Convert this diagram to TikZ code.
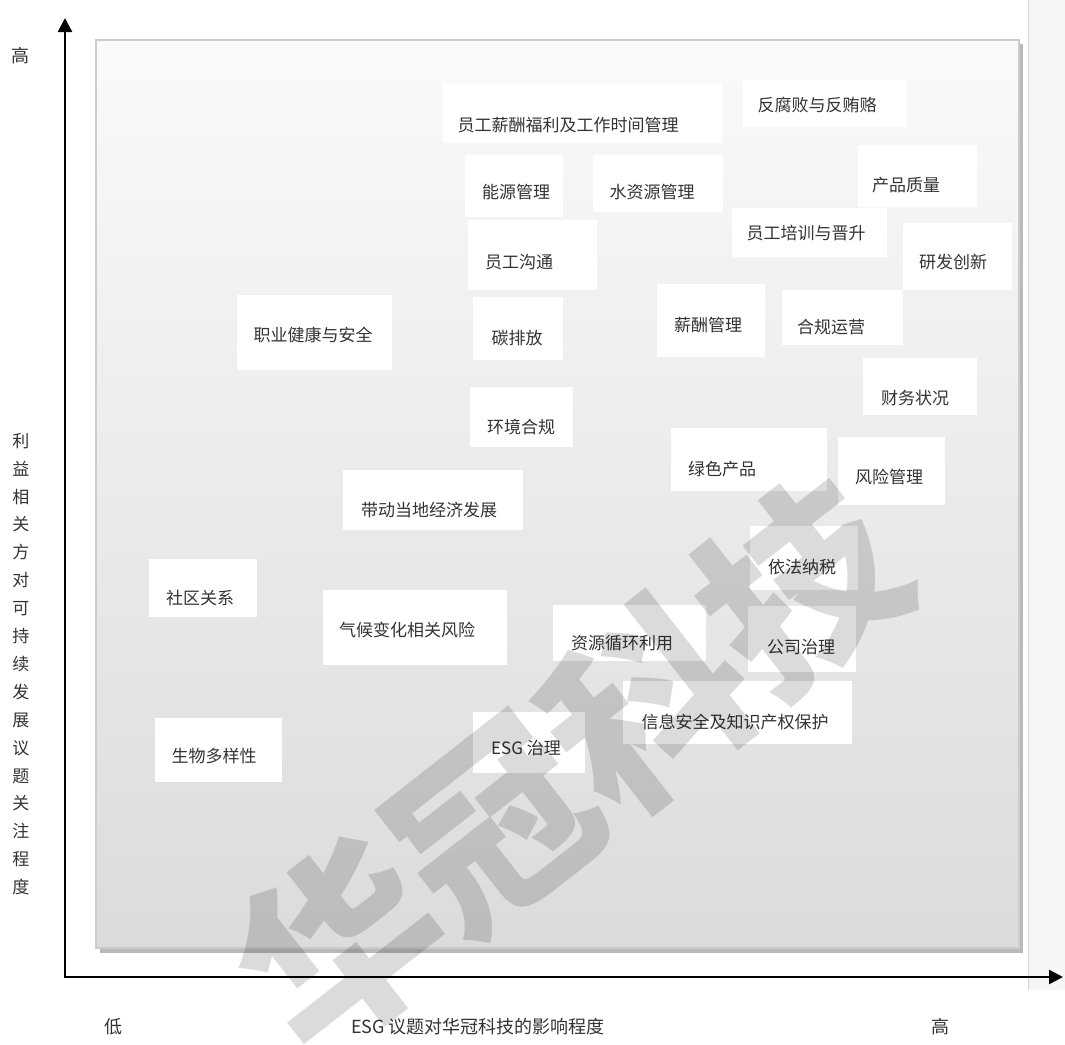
\documentclass[tikz,border=0pt]{standalone}
\usepackage{fontspec}
\newfontfamily\cjk{Noto Sans CJK SC}
\usetikzlibrary{arrows.meta}
\definecolor{labelgray}{HTML}{333333}
\definecolor{stripbg}{HTML}{F6F6F6}

\begin{document}
\begin{tikzpicture}[x=1pt, y=-1pt,
  box/.style={fill=white},
  issue/.style={font=\cjk\fontsize{17}{19}\selectfont, text=labelgray, inner sep=0},
  axislabel/.style={font=\cjk\fontsize{18}{20}\selectfont, text=labelgray, inner sep=0},
  axisline/.style={line width=2.4pt, line join=miter, {Triangle[length=14pt,width=14pt]}-{Triangle[length=14pt,width=14pt]}},
  watermark/.style={font=\cjk\bfseries\fontsize{195}{195}\selectfont, text=black, text opacity=0.14, rotate=38, inner sep=0}]
\useasboundingbox (0,0) rectangle (1065,1044);
\fill[white] (0,0) rectangle (1065,1044);

% right strip
\fill[stripbg] (1028,0) rectangle (1065,990);
\draw[gray!30, line width=1pt] (1028,0) -- (1028,990);

% chart area with shadow
\fill[gray!55] (100,44) rectangle (1023,953);
\shade[top color=white!98!black, bottom color=white!86!black, draw=gray!40, line width=1.5pt] (96,40) rectangle (1019,948);

% issue boxes
\fill[box] (443,83) rectangle (722,143);
\fill[box] (743,80) rectangle (907,127);
\fill[box] (465,155) rectangle (563,217);
\fill[box] (593,155) rectangle (723,212);
\fill[box] (858,145) rectangle (977,207);
\fill[box] (732,208) rectangle (887,257);
\fill[box] (903,223) rectangle (1012,290);
\fill[box] (468,220) rectangle (597,290);
\fill[box] (237,295) rectangle (392,370);
\fill[box] (473,297) rectangle (563,360);
\fill[box] (657,284) rectangle (765,357);
\fill[box] (782,290) rectangle (903,345);
\fill[box] (863,358) rectangle (977,415);
\fill[box] (470,387) rectangle (573,447);
\fill[box] (671,428) rectangle (827,491);
\fill[box] (838,437) rectangle (945,505);
\fill[box] (343,470) rectangle (523,530);
\fill[box] (750,526) rectangle (858,590);
\fill[box] (149,559) rectangle (257,617);
\fill[box] (323,590) rectangle (507,665);
\fill[box] (553,605) rectangle (706,661);
\fill[box] (748,606) rectangle (856,672);
\fill[box] (623,681) rectangle (852,744);
\fill[box] (473,712) rectangle (585,773);
\fill[box] (155,718) rectangle (282,782);

% issue labels
\node[issue] (wage) at (568,125) {员工薪酬福利及工作时间管理};
\node[issue] (anticorr) at (817,105) {反腐败与反贿赂};
\node[issue] (energy) at (516,192) {能源管理};
\node[issue] (water) at (652,192) {水资源管理};
\node[issue] (quality) at (906,185) {产品质量};
\node[issue] (training) at (806,233) {员工培训与晋升};
\node[issue] (rnd) at (953,262) {研发创新};
\node[issue] (comm) at (519,262) {员工沟通};
\node[issue] (ohs) at (313,335) {职业健康与安全};
\node[issue] (carbon) at (517,338) {碳排放};
\node[issue] (pay) at (708,325) {薪酬管理};
\node[issue] (compliance) at (831,327) {合规运营};
\node[issue] (finance) at (915,398) {财务状况};
\node[issue] (envcomp) at (521,427) {环境合规};
\node[issue] (green) at (722,469) {绿色产品};
\node[issue] (risk) at (889,477) {风险管理};
\node[issue] (local) at (429,510) {带动当地经济发展};
\node[issue] (tax) at (802,567) {依法纳税};
\node[issue] (community) at (200,598) {社区关系};
\node[issue] (climate) at (407,630) {气候变化相关风险};
\node[issue] (recycle) at (622,643) {资源循环利用};
\node[issue] (governance) at (801,647) {公司治理};
\node[issue] (infosec) at (735,722) {信息安全及知识产权保护};
\node[issue] (esggov) at (526,748) {ESG 治理};
\node[issue] (biodiv) at (214,756) {生物多样性};

% axes
\coordinate (ytip) at (65,18);
\coordinate (origin) at (65,977);
\coordinate (xtip) at (1063,977);
\draw[axisline] (ytip) -- (origin) -- (xtip);

\node[axislabel] (yhigh) at (21,56) {高};
\node[axislabel, align=center, font=\cjk\fontsize{17}{27.9}\selectfont] (ylab) at (21,664)
  {利\\益\\相\\关\\方\\对\\可\\持\\续\\发\\展\\议\\题\\关\\注\\程\\度};
\node[axislabel] (xlow) at (113,1027) {低};
\node[axislabel] (xlab) at (478,1027) {ESG 议题对华冠科技的影响程度};
\node[axislabel] (xhigh) at (940,1027) {高};

% watermark
\node[watermark] (wm) at (570,765) {华冠科技};
\end{tikzpicture}
\end{document}
